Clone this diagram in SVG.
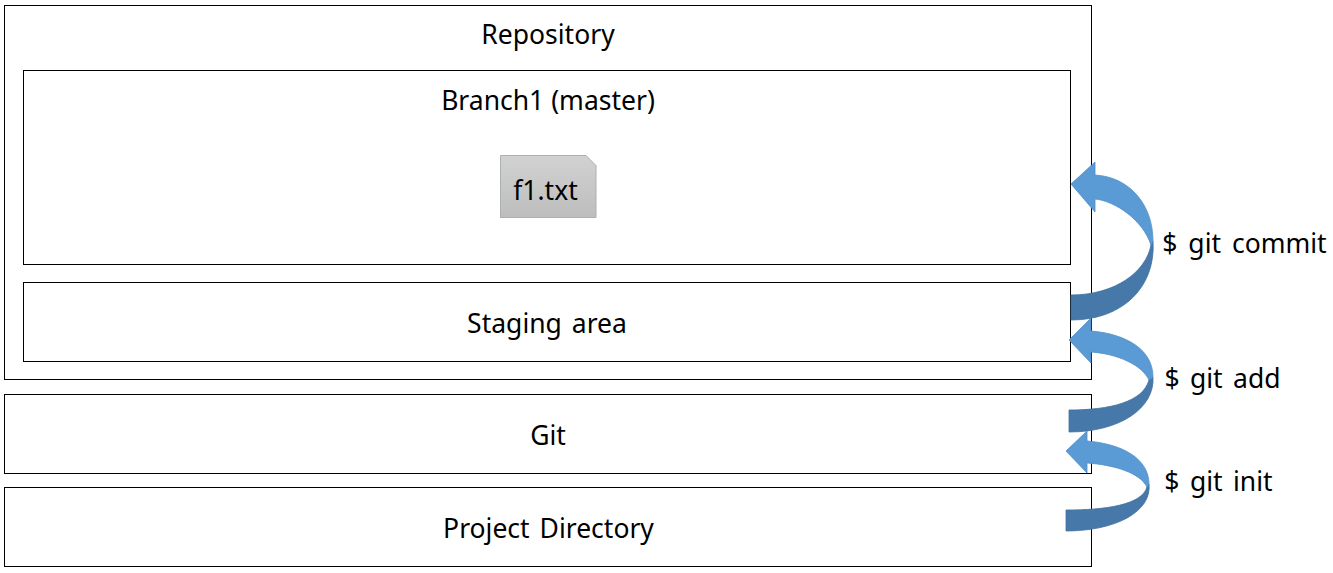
<svg xmlns="http://www.w3.org/2000/svg" width="1333" height="573" viewBox="0 0 1333 573">
<style>
.b{fill:#fff;stroke:#000;stroke-width:1}
text{font-family:"Noto Sans","Open Sans",sans-serif;font-size:26.5px;fill:#000;text-anchor:middle;word-spacing:3px}
.l{fill:#5b9bd5;stroke:#4f8ec6;stroke-width:.8}
.d{fill:#4679a9;stroke:#42719e;stroke-width:.8}
</style>
<defs>
<linearGradient id="g" x1="0" y1="0" x2="0" y2="1"><stop offset="0" stop-color="#d2d2d2"/><stop offset="1" stop-color="#bdbdbd"/></linearGradient>
</defs>
<rect width="1333" height="573" fill="#fff"/>
<g id="repository"><rect class="b" x="4.500" y="5.500" width="1087" height="374"/><text x="548" y="44">Repository</text></g>
<g id="branch1"><rect class="b" x="23.500" y="70.500" width="1047" height="194"/><text x="548" y="110" style="word-spacing:0">Branch1 (master)</text></g>
<g id="f1"><path d="M500.500 155.500H586L596 165.500V217.500H500.500Z" fill="url(#g)" stroke="#a9b3a9"/><text x="545.500" y="200">f1.txt</text></g>
<g id="staging"><rect class="b" x="23.500" y="282.500" width="1047" height="79"/><text x="547" y="333">Staging area</text></g>
<g id="git"><rect class="b" x="4.500" y="394.500" width="1087" height="79"/><text x="548" y="445">Git</text></g>
<g id="project"><rect class="b" x="4.500" y="487.500" width="1087" height="79"/><text x="548.500" y="538">Project Directory</text></g>
<g id="connectors">
<g id="commit-arrow">
<path class="d" d="M1071 295C1115 295 1146 272 1151 245L1153 241C1156 285 1125 320 1071 320Z"/>
<path class="l" d="M1071 184L1095 162V175C1130 177 1153 205 1153 241L1151 245C1143 220 1115 201 1095 199V212Z"/>
</g>
<g id="add-arrow">
<path class="d" d="M1069 410C1110 410 1143 402 1149 380L1153 377C1155 408 1120 432 1069 432Z"/>
<path class="l" d="M1069 340L1091 318V331C1127 334 1153 350 1153 377L1149 380C1142 365 1118 354 1091 352V363Z"/>
</g>
<g id="init-arrow">
<path class="d" d="M1066 510C1105 510 1142 505 1147 487L1149 484C1152 512 1115 531 1066 531Z"/>
<path class="l" d="M1066 451L1087 431V441C1123 444 1149 459 1149 484L1147 487C1140 473 1115 465 1087 463V473Z"/>
</g>
</g>
<g id="labels">
<text x="1244.500" y="253" style="word-spacing:4px">$ git commit</text>
<text x="1222.500" y="388" style="word-spacing:3.500px">$ git add</text>
<text x="1218.500" y="491" style="word-spacing:3.500px">$ git init</text>
</g>
</svg>
